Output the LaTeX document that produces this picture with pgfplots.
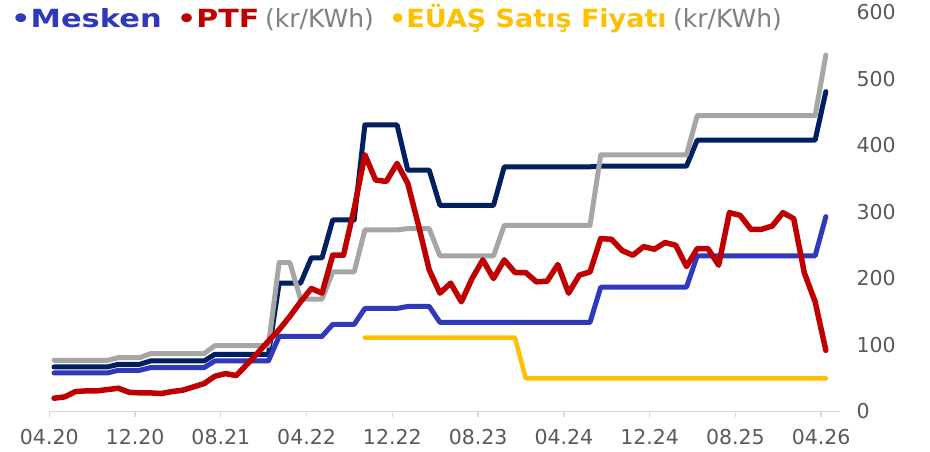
\documentclass[border=0pt]{standalone}
\usepackage{fontspec}
\setmainfont{DejaVu Sans}
\usepackage{graphicx}
\usepackage{pgfplots}
\pgfplotsset{compat=1.18}
\definecolor{navy}{HTML}{002060}
\definecolor{grayl}{HTML}{A6A6A6}
\definecolor{mesken}{HTML}{3038BC}
\definecolor{ptf}{HTML}{C00000}
\definecolor{euas}{HTML}{FFC000}
\definecolor{txtgray}{HTML}{595959}
\definecolor{leggray}{HTML}{808080}
\definecolor{axgray}{HTML}{D9D9D9}
\begin{document}
\begin{tikzpicture}[x=1pt,y=1pt]
\path[use as bounding box] (0,0) rectangle (930,451);
\begin{axis}[
  at={(49.3pt,39.5pt)}, anchor=south west,
  scale only axis, width=790.7pt, height=399pt,
  xmin=-0.44, xmax=73.32, ymin=0, ymax=600,
  clip=false, no markers,
  axis x line*=bottom, axis y line*=right,
  y axis line style={draw=none},
  x axis line style={draw=axgray, line width=1.3pt},
  xtick={-0.44,7.56,15.56,23.56,31.56,39.56,47.56,55.56,63.56,71.56},
  xticklabels={04.20,12.20,08.21,04.22,12.22,08.23,04.24,12.24,08.25,04.26},
  x tick style={draw=axgray, line width=1.3pt},
  tick align=outside, major tick length=5pt,
  ytick={0,100,...,600}, y tick style={draw=none},
  ticklabel style={font=\fontsize{20.5}{24}\selectfont, text=txtgray},
  yticklabel style={anchor=west, xshift=8pt},
  xticklabel style={yshift=-9pt},
  /pgf/number format/assume math mode=true,
]
% dark navy series
\addplot[navy, line width=5pt, line join=round, line cap=round] coordinates {
(0,67)(1,67)(2,67)(3,67)(4,67)(5,67)(6,71)(7,71)(8,71)(9,76)(10,76)(11,76)(12,76)(13,76)(14,76)
(15,86)(16,86)(17,86)(18,86)(19,86)(20,86)(21,193)(22,193)(23,193)(24,231)(25,231)
(26,288)(27,288)(28,288)(29,431)(30,431)(31,431)(32,431)(33,363)(34,363)(35,363)
(36,310)(37,310)(38,310)(39,310)(40,310)(41,310)
(42,368)(43,368)(44,368)(45,368)(46,368)(47,368)(48,368)(49,368)(50,368)(51,369)(52,369)(53,369)(54,369)(55,369)(56,369)(57,369)(58,369)(59,369)
(60,408)(61,408)(62,408)(63,408)(64,408)(65,408)(66,408)(67,408)(68,408)(69,408)(70,408)(71,408)(72,481)};
% grey series
\addplot[grayl, line width=5pt, line join=round, line cap=round] coordinates {
(0,77)(1,77)(2,77)(3,77)(4,77)(5,77)(6,81)(7,81)(8,81)(9,87)(10,87)(11,87)(12,87)(13,87)(14,87)
(15,99)(16,99)(17,99)(18,99)(19,99)(20,99)(21,224)(22,224)(23,169)(24,169)(25,169)
(26,210)(27,210)(28,210)(29,273)(30,273)(31,273)(32,273)(33,275)(34,275)(35,275)
(36,234)(37,234)(38,234)(39,234)(40,234)(41,234)
(42,280)(43,280)(44,280)(45,280)(46,280)(47,280)(48,280)(49,280)(50,280)
(51,386)(52,386)(53,386)(54,386)(55,386)(56,386)(57,386)(58,386)(59,386)
(60,445)(61,445)(62,445)(63,445)(64,445)(65,445)(66,445)(67,445)(68,445)(69,445)(70,445)(71,445)(72,536)};
% Mesken
\addplot[mesken, line width=5pt, line join=round, line cap=round] coordinates {
(0,58)(1,58)(2,58)(3,58)(4,58)(5,58)(6,62)(7,62)(8,62)(9,66)(10,66)(11,66)(12,66)(13,66)(14,66)
(15,76)(16,76)(17,76)(18,76)(19,76)(20,76)(21,113)(22,113)(23,113)(24,113)(25,113)
(26,131)(27,131)(28,131)(29,155)(30,155)(31,155)(32,155)(33,158)(34,158)(35,158)
(36,134)(37,134)(38,134)(39,134)(40,134)(41,134)(42,134)(43,134)(44,134)(45,134)(46,134)(47,134)(48,134)(49,134)(50,134)
(51,187)(52,187)(53,187)(54,187)(55,187)(56,187)(57,187)(58,187)(59,187)
(60,234)(61,234)(62,234)(63,234)(64,234)(65,234)(66,234)(67,234)(68,234)(69,234)(70,234)(71,234)(72,293)};
% PTF
\addplot[ptf, line width=5.5pt, line join=round, line cap=round] coordinates {
(0,20)(1,22)(2,30)(3,31)(4,31)(5,33)(6,35)(7,29)(8,28)(9,28)(10,27)(11,30)(12,32)(13,37)(14,42)
(15,53)(16,57)(17,54)(18,71)(19,88)(20,106)(21,123)(22,143)(23,165)(24,185)(25,178)
(26,235)(27,235)(28,305)(29,386)(30,348)(31,346)(32,373)(33,343)(34,280)(35,213)
(36,178)(37,193)(38,165)(39,200)(40,228)(41,200)(42,228)(43,209)(44,209)(45,195)(46,196)(47,221)
(48,178)(49,205)(50,210)(51,260)(52,259)(53,242)(54,235)(55,248)(56,244)(57,254)(58,250)(59,218)
(60,245)(61,245)(62,220)(63,299)(64,295)(65,274)(66,274)(67,279)(68,299)(69,290)(70,208)(71,165)(72,92)};
% EUAS
\addplot[euas, line width=4.5pt, line join=round, line cap=round] coordinates {
(29,111)(30,111)(31,111)(32,111)(33,111)(34,111)(35,111)(36,111)(37,111)(38,111)(39,111)(40,111)(41,111)(42,111)(43,111)
(44,50)(45,50)(46,50)(47,50)(48,50)(49,50)(50,50)(51,50)(52,50)(53,50)(54,50)(55,50)(56,50)(57,50)(58,50)(59,50)
(60,50)(61,50)(62,50)(63,50)(64,50)(65,50)(66,50)(67,50)(68,50)(69,50)(70,50)(71,50)(72,50)};
\end{axis}
\begin{scope}[every node/.style={inner sep=0pt, anchor=base west, font=\fontsize{25}{30}\selectfont}]
\node[text=mesken] at (11,423) {\scalebox{1.22}[1]{\bfseries •Mesken}};
\node[text=ptf] at (177,423) {\scalebox{1.2}[1]{\bfseries •PTF}};
\node[text=leggray] at (265,423) {(kr/KWh)};
\node[text=euas] at (389,423) {\scalebox{1.08}[1]{\bfseries •EÜAŞ Satış Fiyatı}};
\node[text=leggray] at (673,423) {(kr/KWh)};
\end{scope}
\end{tikzpicture}
\end{document}
